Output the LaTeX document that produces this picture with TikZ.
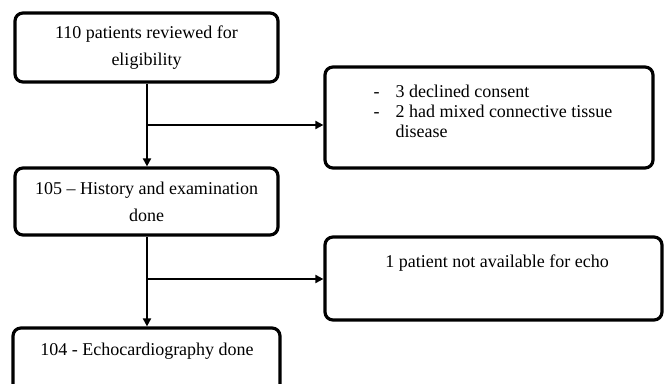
\documentclass[tikz,border=0pt]{standalone}
\usepackage{fontspec}
\setmainfont{Liberation Serif}
\usetikzlibrary{arrows.meta}

\tikzset{
  stage/.style={draw, line width=3.2pt, rounded corners=8pt, align=center, inner sep=0pt},
  flow/.style={line width=1.9pt, -{Triangle[length=8pt,width=8pt]}},
}

\begin{document}
\begin{tikzpicture}[x=1pt,y=-1pt,font=\fontsize{18}{27}\selectfont]
\clip (0,0) rectangle (664,383);
% main column
\node[stage, minimum width=263pt, minimum height=69pt] (reviewed) at (146.5,47.5) {110 patients reviewed for\\eligibility};
\node[stage, minimum width=263pt, minimum height=67pt] (examined) at (146.5,201.5) {105 -- History and examination\\done};
\node[stage, minimum width=267pt, minimum height=67pt] (echo) at (146.5,361.5) {};
\node[anchor=base] (echotxt) at (147,355) {104 - Echocardiography done};
% exclusions
\node[stage, minimum width=328pt, minimum height=101pt] (excluded) at (489,117.5) {};
\node[anchor=base west] (excludedtxt) at (370,97) {\fontsize{18}{20}\selectfont
  \begin{tabular}[t]{@{}l@{\hspace{16pt}}l@{}}
  - & 3 declined consent\\
  - & 2 had mixed connective tissue\\
    & disease
  \end{tabular}};
\node[stage, minimum width=337pt, minimum height=83pt] (noecho) at (493.5,278.5) {};
\node[anchor=base] (noechotxt) at (497,267) {1 patient not available for echo};
% connectors
\coordinate (split1) at (147,125);
\coordinate (split2) at (147,279);
\draw[flow] (reviewed.south -| split1) -- (examined.north -| split1);
\draw[flow] (examined.south -| split2) -- (echo.north -| split2);
\draw[flow] (split1) -- (split1 -| excluded.west);
\draw[flow] (split2) -- (split2 -| noecho.west);
\end{tikzpicture}
\end{document}
